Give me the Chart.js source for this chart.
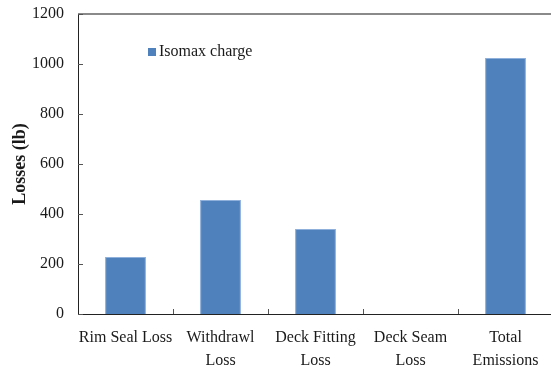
<!DOCTYPE html>
<html>
<head>
<meta charset="utf-8">
<script src="https://cdn.jsdelivr.net/npm/chart.js@4/dist/chart.umd.min.js"></script>
<style>
  html, body { margin: 0; padding: 0; background: #fff; overflow: hidden; }
  #wrap { width: 556px; height: 371px; position: relative; }
</style>
</head>
<body>
<div id="wrap"><canvas id="c"></canvas></div>
<script>
// Storage tank loss components, in pounds
const categories = [
  'Rim Seal Loss',
  ['Withdrawl', 'Loss'],
  ['Deck Fitting', 'Loss'],
  ['Deck Seam', 'Loss'],
  ['Total', 'Emissions']
];
const seriesName = 'Isomax charge';
const lossValues = [228, 456, 340, 0, 1024];
const yTicks = [0, 200, 400, 600, 800, 1000, 1200];
const axisTitle = 'Losses (lb)';

const barColor = '#4F81BD';
const serif = '"Liberation Serif", "Times New Roman", serif';

// Inside tick marks, top frame line and the in-plot legend
const decorations = {
  id: 'decorations',
  afterDraw(chart) {
    const { ctx, chartArea: a, scales } = chart;
    ctx.save();
    // top frame line
    ctx.strokeStyle = '#8a8a8a';
    ctx.lineWidth = 2;
    ctx.beginPath();
    ctx.moveTo(a.left, a.top);
    ctx.lineTo(a.right + 10, a.top);
    ctx.stroke();

    // category separators on the x axis, pointing up
    ctx.strokeStyle = '#555';
    ctx.lineWidth = 1;
    const xs = scales.x;
    for (let i = 1; i < categories.length; i++) {
      const px = Math.round((xs.getPixelForValue(i - 1) + xs.getPixelForValue(i)) / 2) + 0.5;
      ctx.beginPath();
      ctx.moveTo(px, a.bottom);
      ctx.lineTo(px, a.bottom - 5);
      ctx.stroke();
    }
    // value ticks on the y axis, pointing right
    const ys = scales.y;
    yTicks.forEach(v => {
      const py = Math.round(ys.getPixelForValue(v)) + 0.5;
      ctx.beginPath();
      ctx.moveTo(a.left, py);
      ctx.lineTo(a.left + 5, py);
      ctx.stroke();
    });

    // legend
    const ds = chart.data.datasets[0];
    ctx.fillStyle = ds.backgroundColor;
    ctx.fillRect(148, 48, 8, 8);
    ctx.fillStyle = '#1a1a1a';
    ctx.font = '16px ' + serif;
    ctx.textBaseline = 'middle';
    ctx.textAlign = 'left';
    ctx.fillText(ds.label, 159, 52);
    ctx.restore();
  }
};

new Chart(document.getElementById('c'), {
  type: 'bar',
  data: {
    labels: categories,
    datasets: [{
      label: seriesName,
      data: lossValues,
      backgroundColor: barColor,
      borderColor: '#8fb0da',
      borderWidth: 1,
      barPercentage: 0.43,
      categoryPercentage: 1
    }]
  },
  options: {
    responsive: true,
    maintainAspectRatio: false,
    animation: false,
    layout: { padding: { top: 14, right: 3, left: 0, bottom: 0 } },
    plugins: {
      legend: { display: false },
      tooltip: { enabled: false }
    },
    scales: {
      x: {
        grid: { display: false, drawTicks: false },
        border: { display: true, color: '#222', width: 1 },
        ticks: {
          color: '#1a1a1a',
          font: { family: serif, size: 16, lineHeight: 1.45 },
          padding: 12,
          maxRotation: 0,
          autoSkip: false
        },
        afterFit(scale) {
          scale.height = 57;
          scale.paddingLeft = 0;
          scale.paddingRight = 0;
        }
      },
      y: {
        min: 0,
        max: 1200,
        afterBuildTicks(scale) { scale.ticks = yTicks.map(v => ({ value: v })); },
        grid: { display: false, drawTicks: false },
        border: { display: true, color: '#222', width: 1 },
        ticks: {
          color: '#1a1a1a',
          font: { family: serif, size: 16 },
          padding: 14,
          callback: v => String(v)
        },
        title: {
          display: true,
          text: axisTitle,
          color: '#1a1a1a',
          font: { family: serif, size: 18, weight: 'bold' },
          padding: { top: 10, bottom: 0 }
        },
        afterFit(scale) {
          scale.width = 78;
          scale.paddingTop = 0;
          scale.paddingBottom = 0;
        }
      }
    }
  },
  plugins: [decorations]
});
</script>
</body>
</html>
